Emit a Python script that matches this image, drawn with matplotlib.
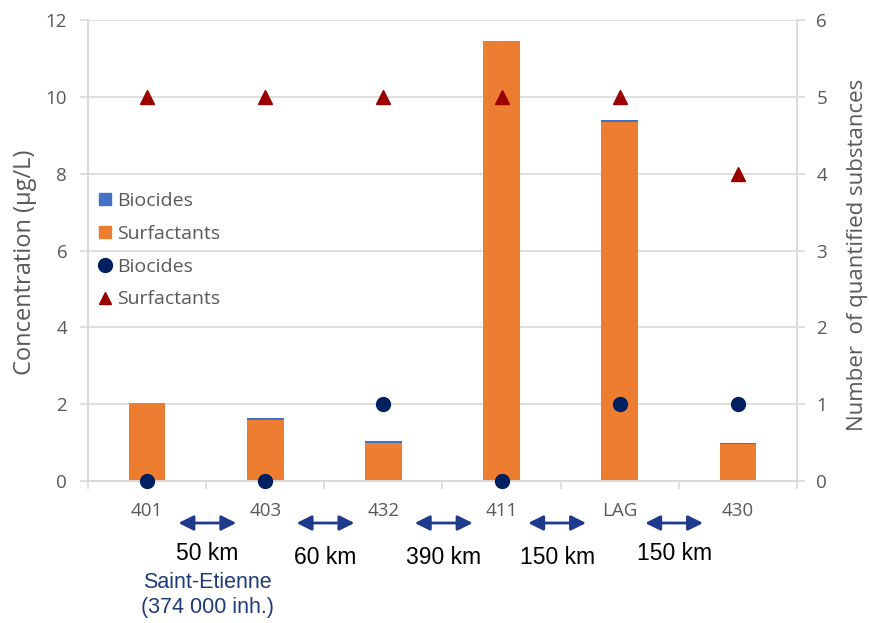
import matplotlib
matplotlib.use('Agg')
import matplotlib.pyplot as plt
from matplotlib.lines import Line2D
from matplotlib.patches import Patch
import numpy as np

# data
sites = ['401', '403', '432', '411', 'LAG', '430']
surfactants_conc = [2.03, 1.60, 1.00, 11.45, 9.35, 0.96]
biocides_conc = [0.0, 0.03, 0.04, 0.0, 0.05, 0.04]
biocides_n = [0, 0, 1, 0, 1, 1]
surfactants_n = [5, 5, 5, 5, 5, 4]
# distance annotations between sites (x in category units)
dist_x = [0.51, 1.51, 2.51, 3.47, 4.46]
dist_labels = ['50 km', '60 km', '390 km', '150 km', '150 km']
dist_y = [554, 558, 558, 558, 554]   # pixels from top
city_label = 'Saint-Etienne\n(374 000 inh.)'

ORANGE = '#ED7D31'
BLUE = '#4472C4'
NAVY = '#002060'
DARKRED = '#9B0000'
GRAY = '#595959'
GRID = '#D9D9D9'
ARROW = '#1F3A8C'

plt.rcParams['font.family'] = ['Open Sans', 'DejaVu Sans']

fig = plt.figure(figsize=(8.69, 6.23), dpi=100)
ax = fig.add_axes([88/869, 1-481/623, (797-88)/869, (481-20)/623])
ax2 = ax.twinx()

x = np.arange(len(sites))
w = 0.31
ax.bar(x, surfactants_conc, w, color=ORANGE, zorder=2)
ax.bar(x, biocides_conc, w, bottom=surfactants_conc, color=BLUE, zorder=2)

ax.set_xlim(-0.5, 5.5)
ax.set_ylim(0, 12)
ax.set_yticks(range(0, 13, 2))
ax.grid(axis='y', color=GRID, lw=1.2, zorder=0)
ax.set_axisbelow(True)
ax.set_xticks(x)
ax.set_xticklabels(sites)
ax.set_xticks(np.arange(-0.5, 5.6, 1), minor=True)
ax.tick_params(axis='x', which='major', length=0, pad=15, labelsize=13.5, labelcolor=GRAY)
ax.tick_params(axis='x', which='minor', length=6, width=1.2, color=GRID)
ax.tick_params(axis='y', length=6, width=1.2, color=GRID, pad=9, labelsize=13.5, labelcolor=GRAY)
ax.set_ylabel('Concentration (µg/L)', fontsize=17, color=GRAY)
ax.yaxis.set_label_coords(-0.072, 0.475)

ax2.plot(x, biocides_n, 'o', color=NAVY, ms=10, zorder=3, clip_on=False)
ax2.plot(x, surfactants_n, '^', color=DARKRED, ms=9.5, zorder=3, clip_on=False)
ax2.set_ylim(0, 6)
ax2.set_yticks(range(0, 7))
ax2.tick_params(axis='y', length=6, width=1.2, color=GRID, pad=8, labelsize=13.5, labelcolor=GRAY)
ax2.set_ylabel('Number  of quantified substances', fontsize=16, color=GRAY)
ax2.yaxis.set_label_coords(1.07, 0.49)

for a in (ax, ax2):
    a.spines['top'].set_visible(False)
    for s in ('left', 'right', 'bottom'):
        a.spines[s].set_color(GRID)
        a.spines[s].set_linewidth(1.2)

handles = [Patch(color=BLUE, label='Biocides'),
           Patch(color=ORANGE, label='Surfactants'),
           Line2D([], [], ls='', marker='o', color=NAVY, ms=10, label='Biocides'),
           Line2D([], [], ls='', marker='^', color=DARKRED, ms=8, label='Surfactants')]
leg = ax2.legend(handles=handles, loc='upper left', bbox_to_anchor=(99/869, 1-192/623),
                 bbox_transform=fig.transFigure, frameon=False, fontsize=14,
                 handlelength=0.6, handleheight=0.6, handletextpad=0.35, labelspacing=0.76,
                 borderaxespad=0, borderpad=0)
for t in leg.get_texts():
    t.set_color(GRAY)

# distance arrows and labels under the axis
for xd, lab, yd in zip(dist_x, dist_labels, dist_y):
    ax.annotate('', xy=(xd - 0.245, 623-523), xytext=(xd + 0.245, 623-523),
                xycoords=('data', 'figure pixels'), textcoords=('data', 'figure pixels'),
                arrowprops=dict(arrowstyle='<|-|>,head_length=0.6,head_width=0.3',
                                color=ARROW, lw=2, mutation_scale=15,
                                shrinkA=0, shrinkB=0),
                annotation_clip=False)
    ax.annotate(lab, xy=(xd, 623-yd), xycoords=('data', 'figure pixels'),
                ha='center', va='center', fontsize=16.5, family='Liberation Sans',
                color='black', annotation_clip=False)

ax.annotate(city_label, xy=(0.51, 623-595), xycoords=('data', 'figure pixels'),
            ha='center', va='center', fontsize=15.5, family='Liberation Sans',
            color='#1F3A7A', linespacing=1.2, annotation_clip=False)

fig.savefig('out.png', dpi=100)
